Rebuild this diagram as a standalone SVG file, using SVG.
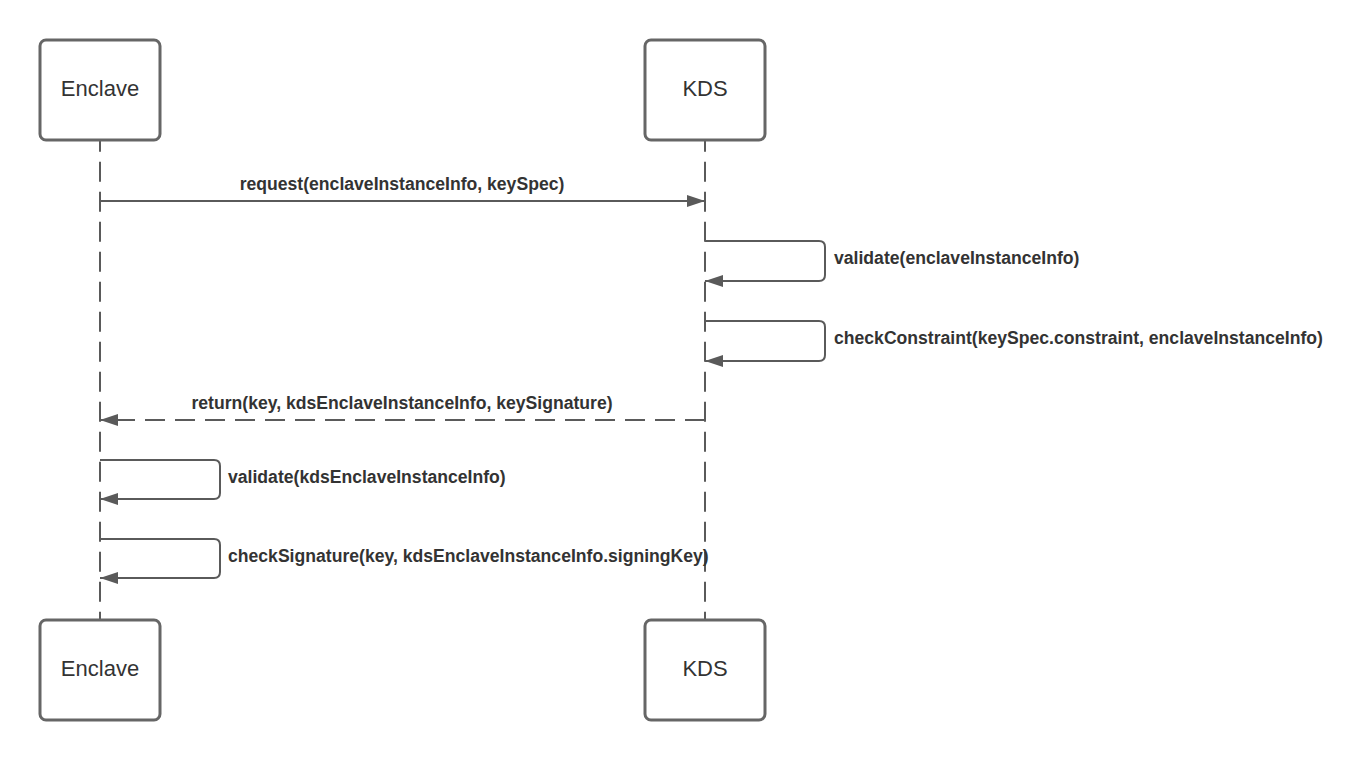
<svg xmlns="http://www.w3.org/2000/svg" width="1366" height="760" viewBox="0 0 1366 760">
<defs>
<marker id="arr" markerWidth="20" markerHeight="14" refX="18" refY="7" orient="auto" markerUnits="userSpaceOnUse">
<path d="M0,1 L18,7 L0,13 Z" fill="#5a5a5a"/>
</marker>
</defs>
<style>
.box{fill:#ffffff;stroke:#666666;stroke-width:3}
.bt{font-family:"Liberation Sans",Arial,sans-serif;font-size:22px;fill:#333333;text-anchor:middle}
.life{stroke:#5a5a5a;stroke-width:2;stroke-dasharray:20 10;fill:none}
.msg{stroke:#5a5a5a;stroke-width:2;fill:none}
.dash{stroke-dasharray:20 10}
.lbl{font-family:"Liberation Sans",Arial,sans-serif;font-size:17.6px;font-weight:bold;fill:#333333}
</style>
<rect width="1366" height="760" fill="#ffffff"/>
<g id="lifelines">
<line class="life" x1="100" y1="131.7" x2="100" y2="625"/>
<line class="life" x1="705" y1="131.7" x2="705" y2="625"/>
</g>
<g id="enclave-top"><rect class="box" x="40" y="40" width="120" height="100" rx="6"/><text class="bt" x="100" y="96">Enclave</text></g>
<g id="kds-top"><rect class="box" x="645" y="40" width="120" height="100" rx="6"/><text class="bt" x="705" y="96">KDS</text></g>
<g id="enclave-bottom"><rect class="box" x="40" y="620" width="120" height="100" rx="6"/><text class="bt" x="100" y="676">Enclave</text></g>
<g id="kds-bottom"><rect class="box" x="645" y="620" width="120" height="100" rx="6"/><text class="bt" x="705" y="676">KDS</text></g>
<g id="connectors">
<line class="msg" x1="100" y1="201" x2="705" y2="201" marker-end="url(#arr)"/>
<text class="lbl" x="402" y="190" text-anchor="middle">request(enclaveInstanceInfo, keySpec)</text>
<path class="msg" d="M705,241 H819 Q825,241 825,247 V275 Q825,281 819,281 H705" marker-end="url(#arr)"/>
<text class="lbl" x="834" y="264">validate(enclaveInstanceInfo)</text>
<path class="msg" d="M705,321 H819 Q825,321 825,327 V355 Q825,361 819,361 H705" marker-end="url(#arr)"/>
<text class="lbl" x="834" y="344">checkConstraint(keySpec.constraint, enclaveInstanceInfo)</text>
<line class="msg dash" x1="705" y1="420" x2="100" y2="420" marker-end="url(#arr)"/>
<text class="lbl" x="402" y="409" text-anchor="middle">return(key, kdsEnclaveInstanceInfo, keySignature)</text>
<path class="msg" d="M100,460 H214 Q220,460 220,466 V493 Q220,499 214,499 H100" marker-end="url(#arr)"/>
<text class="lbl" x="228" y="483">validate(kdsEnclaveInstanceInfo)</text>
<path class="msg" d="M100,539 H214 Q220,539 220,545 V572 Q220,578 214,578 H100" marker-end="url(#arr)"/>
<text class="lbl" x="228" y="562">checkSignature(key, kdsEnclaveInstanceInfo.signingKey)</text>
</g>
</svg>
